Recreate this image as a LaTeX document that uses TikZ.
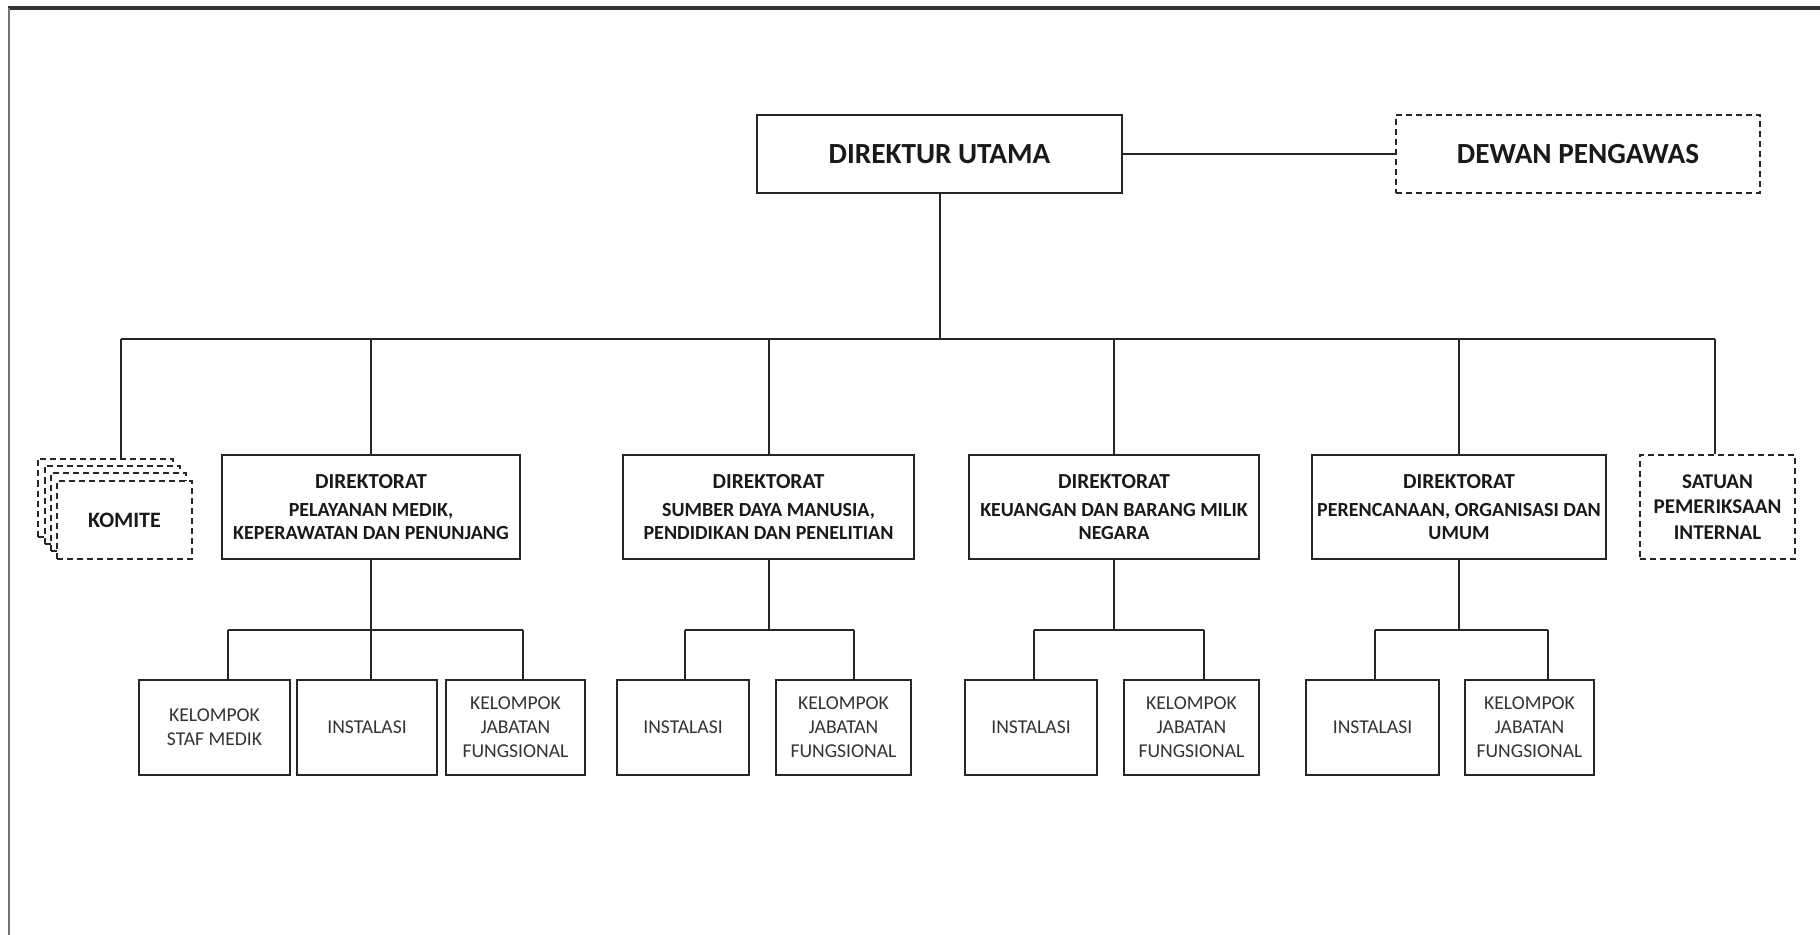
\documentclass[tikz,border=0pt]{standalone}
\usepackage{fontspec}
\setmainfont{Carlito}
\begin{document}
\begin{tikzpicture}[x=0.5pt,y=-0.5pt,
  box/.style={draw=black!85, line width=1.1pt, fill=white, inner sep=0pt, align=center, text=black!90},
  dbox/.style={box, line width=1pt, dash pattern=on 3pt off 2pt},
  conn/.style={draw=black!85, line width=1pt},
  topfont/.style={font=\bfseries\fontsize{14.6}{16}\selectfont},
  dirfont/.style={font=\bfseries\fontsize{10}{11.5}\selectfont},
  subfont/.style={font=\fontsize{9.8}{12}\selectfont, text=black!80},
  dirbox/.style={box, dirfont, minimum height=52pt},
  subbox/.style={box, subfont, minimum height=47.5pt},
  kombox/.style={dbox, minimum width=67.5pt, minimum height=39pt}]
\useasboundingbox (0,0) rectangle (1820,935);
\fill[white] (0,0) rectangle (1820,935);
\draw[black!80, line width=1.6pt] (8,8) -- (1820,8);
\draw[black!55, line width=1.3pt] (9,8) -- (9,935);

% top level
\node[box, topfont, minimum width=182.5pt, minimum height=39pt] (du) at (939.5,154) {DIREKTUR UTAMA};
\node[dbox, topfont, minimum width=182pt, minimum height=39pt] (dp) at (1578,154) {DEWAN PENGAWAS};

% directorates
\newcommand{\dirhead}{{\fontsize{10.7}{11.5}\selectfont DIREKTORAT}\\[2.5pt]}
\node[dirbox, minimum width=149pt] (d1) at (371,507) {\dirhead PELAYANAN MEDIK,\\ KEPERAWATAN DAN PENUNJANG};
\node[dirbox, minimum width=145.5pt] (d2) at (768.5,507) {\dirhead SUMBER DAYA MANUSIA,\\ PENDIDIKAN DAN PENELITIAN};
\node[dirbox, minimum width=145pt] (d3) at (1114,507) {\dirhead KEUANGAN DAN BARANG MILIK\\ NEGARA};
\node[dirbox, minimum width=147pt] (d4) at (1459,507) {\dirhead PERENCANAAN, ORGANISASI DAN\\ UMUM};
\node[dbox, font=\bfseries\fontsize{10.5}{12.75}\selectfont, minimum width=77.5pt, minimum height=52pt] (spi) at (1717.5,507) {SATUAN\\ PEMERIKSAAN\\ INTERNAL};

% komite stack
\node[kombox] (k1) at (105.5,497.5) {};
\node[kombox] (k2) at (112,504.5) {};
\node[kombox] (k3) at (118.5,512) {};
\node[kombox, font=\bfseries\fontsize{11}{13}\selectfont] (k4) at (124.5,520) {KOMITE};

% bottom boxes
\node[subbox, minimum width=75.5pt] (g1a) at (214.5,727.5) {KELOMPOK\\ STAF MEDIK};
\node[subbox, minimum width=70pt] (g1b) at (367,727.5) {INSTALASI};
\node[subbox, minimum width=69.5pt] (g1c) at (515.5,727.5) {KELOMPOK\\ JABATAN\\ FUNGSIONAL};
\node[subbox, minimum width=66pt] (g2a) at (683,727.5) {INSTALASI};
\node[subbox, minimum width=67.5pt] (g2b) at (843.5,727.5) {KELOMPOK\\ JABATAN\\ FUNGSIONAL};
\node[subbox, minimum width=66pt] (g3a) at (1031,727.5) {INSTALASI};
\node[subbox, minimum width=67.5pt] (g3b) at (1191.5,727.5) {KELOMPOK\\ JABATAN\\ FUNGSIONAL};
\node[subbox, minimum width=66.5pt] (g4a) at (1372.5,727.5) {INSTALASI};
\node[subbox, minimum width=64.5pt] (g4b) at (1529.5,727.5) {KELOMPOK\\ JABATAN\\ FUNGSIONAL};

% main bus
\coordinate (busL) at (121,339);
\coordinate (busR) at (1715,339);
\coordinate (busM) at (939.5,339);
\draw[conn] (du.east) -- (dp.west);
\draw[conn] (du.south) -- (busM);
\draw[conn] (busL) -- (busR);
\draw[conn] (busL) -- (busL |- k1.north);
\draw[conn] (d1.north |- busL) -- (d1.north);
\draw[conn] (d2.north |- busL) -- (d2.north);
\draw[conn] (d3.north |- busL) -- (d3.north);
\draw[conn] (d4.north |- busL) -- (d4.north);
\draw[conn] (busR) -- (busR |- spi.north);

% group 1
\coordinate (s1L) at (228,630);
\coordinate (s1R) at (523,630);
\draw[conn] (d1.south) -- (d1.south |- g1b.north);
\draw[conn] (s1L) -- (s1R);
\draw[conn] (s1L) -- (s1L |- g1a.north);
\draw[conn] (s1R) -- (s1R |- g1c.north);
% group 2
\coordinate (s2L) at (685,630);
\coordinate (s2R) at (854,630);
\draw[conn] (d2.south) -- (d2.south |- s2L);
\draw[conn] (s2L) -- (s2R);
\draw[conn] (s2L) -- (s2L |- g2a.north);
\draw[conn] (s2R) -- (s2R |- g2b.north);
% group 3
\coordinate (s3L) at (1034,630);
\coordinate (s3R) at (1204,630);
\draw[conn] (d3.south) -- (d3.south |- s3L);
\draw[conn] (s3L) -- (s3R);
\draw[conn] (s3L) -- (s3L |- g3a.north);
\draw[conn] (s3R) -- (s3R |- g3b.north);
% group 4
\coordinate (s4L) at (1375,630);
\coordinate (s4R) at (1548,630);
\draw[conn] (d4.south) -- (d4.south |- s4L);
\draw[conn] (s4L) -- (s4R);
\draw[conn] (s4L) -- (s4L |- g4a.north);
\draw[conn] (s4R) -- (s4R |- g4b.north);
\end{tikzpicture}
\end{document}
